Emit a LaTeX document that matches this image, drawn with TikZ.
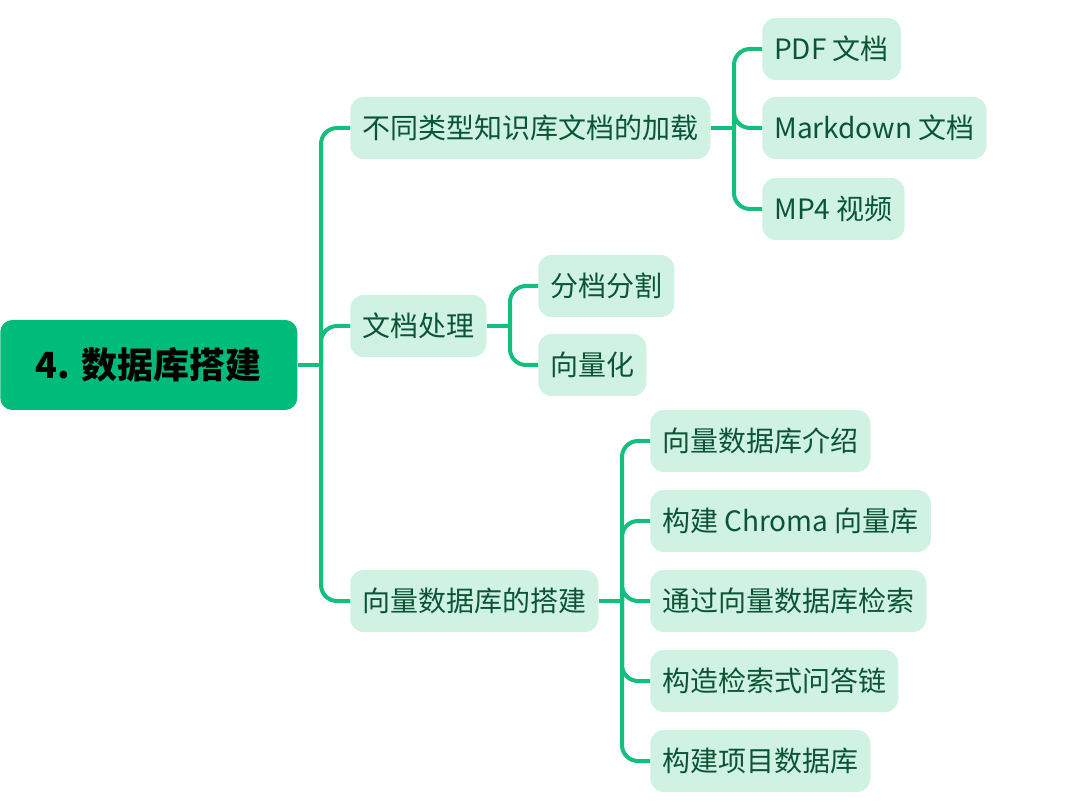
\documentclass[tikz,border=0pt]{standalone}
\usepackage{fontspec}
\setmainfont{Noto Sans CJK SC}
\usetikzlibrary{positioning}
\definecolor{rootgreen}{HTML}{00BC7B}
\definecolor{linkgreen}{HTML}{12BF7C}
\definecolor{mint}{HTML}{CFF2E3}
\definecolor{leafink}{HTML}{0B5536}
\tikzset{
  rootbox/.style = {rectangle, rounded corners=9pt, fill=rootgreen, minimum width=222.75pt,
                    minimum height=67.5pt, font=\fontsize{27}{31}\selectfont\bfseries, text=black},
  topic/.style   = {rectangle, rounded corners=10pt, fill=mint, inner xsep=9pt, inner ysep=0pt,
                    minimum height=46.5pt, font=\fontsize{21}{25}\selectfont, text=leafink, anchor=west},
  link/.style    = {draw=linkgreen, line width=3pt, rounded corners=12pt},
}
\begin{document}
\begin{tikzpicture}[x=0.75pt, y=-0.75pt]
  \useasboundingbox (0,0) rectangle (1086,805);
  \node[rootbox, anchor=west] (root) at (0,365) {4. 数据库搭建};

  % first level
  \node[topic] (load)  at (350,128) {不同类型知识库文档的加载};
  \node[topic] (proc)  at (350,326) {文档处理};
  \node[topic] (store) at (350,601) {向量数据库的搭建};

  % second level
  \node[topic] (pdf)   at (762,49)  {PDF 文档};
  \node[topic] (md)    at (762,128) {Markdown 文档};
  \node[topic] (mp4)   at (762,209) {MP4 视频};

  \node[topic] (split) at (538,286) {分档分割};
  \node[topic] (embed) at (538,365) {向量化};

  \node[topic] (intro) at (650,441) {向量数据库介绍};
  \node[topic] (chroma) at (650,521) {构建 Chroma 向量库};
  \node[topic] (query) at (650,601) {通过向量数据库检索};
  \node[topic] (chain) at (650,681) {构造检索式问答链};
  \node[topic] (proj)  at (650,761) {构建项目数据库};

  % connectors
  \coordinate (j0) at (321,365);
  \coordinate (j1) at (734,128);
  \coordinate (j2) at (510,326);
  \coordinate (j3) at (622,601);
  \draw[link] (root.east) -- (j0);
  \draw[link] (load.east) -- (j1);
  \draw[link] (proc.east) -- (j2);
  \draw[link] (store.east) -- (j3);
  \foreach \c in {load,proc,store} \draw[link] (j0) |- (\c.west);
  \foreach \c in {pdf,md,mp4} \draw[link] (j1) |- (\c.west);
  \foreach \c in {split,embed} \draw[link] (j2) |- (\c.west);
  \foreach \c in {intro,chroma,query,chain,proj} \draw[link] (j3) |- (\c.west);
\end{tikzpicture}
\end{document}
